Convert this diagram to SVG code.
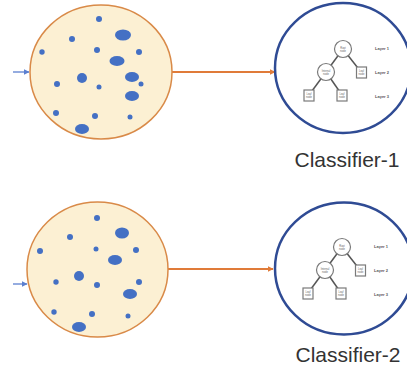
<svg xmlns="http://www.w3.org/2000/svg" width="407" height="365" viewBox="0 0 407 365">
  <defs>
    <marker id="orangeHead" viewBox="0 0 10 10" refX="9" refY="5" markerWidth="6" markerHeight="6" markerUnits="userSpaceOnUse" orient="auto">
      <path d="M0,0 L10,5 L0,10 z" fill="#E07B39"/>
    </marker>
    <marker id="blueHead" viewBox="0 0 10 10" refX="9" refY="5" markerWidth="6" markerHeight="6" markerUnits="userSpaceOnUse" orient="auto">
      <path d="M0,0 L10,5 L0,10 z" fill="#5B7FD0"/>
    </marker>
    <!-- small decision tree drawn inside each classifier circle -->
    <g id="tree">
      <line class="edge" x1="0" y1="0" x2="-17" y2="23"/>
      <line class="edge" x1="0" y1="0" x2="18" y2="23"/>
      <line class="edge" x1="-17" y1="23" x2="-34" y2="46"/>
      <line class="edge" x1="-17" y1="23" x2="-1" y2="46"/>
      <circle class="tnode" cx="0" cy="0" r="8.5"/>
      <circle class="tnode" cx="-17" cy="23" r="8.5"/>
      <rect class="tnode" x="13.5" y="18" width="10" height="11"/>
      <rect class="tnode" x="-39" y="41" width="10" height="11"/>
      <rect class="tnode" x="-6" y="41" width="10" height="11"/>
      <text class="tiny" x="0" y="-0.5">Root</text>
      <text class="tiny" x="0" y="2.5">node</text>
      <text class="tiny" x="-17" y="22.5">Internal</text>
      <text class="tiny" x="-17" y="25.5">node</text>
      <text class="tiny" x="18.5" y="22.5">Leaf</text>
      <text class="tiny" x="18.5" y="25.5">node</text>
      <text class="tiny" x="-34" y="45.5">Leaf</text>
      <text class="tiny" x="-34" y="48.5">node</text>
      <text class="tiny" x="-1" y="45.5">Leaf</text>
      <text class="tiny" x="-1" y="48.5">node</text>
      <text class="layer" x="32" y="1">Layer 1</text>
      <text class="layer" x="32" y="25">Layer 2</text>
      <text class="layer" x="32" y="49">Layer 3</text>
    </g>
  </defs>
  <style>
    .pool { fill: #FCF0D3; stroke: #D98A48; stroke-width: 1.5; }
    .dot { fill: #4470C4; }
    .clf { fill: #FFFFFF; stroke: #2F4B94; stroke-width: 2.5; }
    .edge { stroke: #555555; stroke-width: 1.5; }
    .tnode { fill: #FFFFFF; stroke: #7A7A7A; stroke-width: 1.2; }
    .tiny { font-family: "Liberation Sans", Arial, sans-serif; font-size: 2.6px; fill: #666666; text-anchor: middle; }
    .layer { font-family: "Liberation Sans", Arial, sans-serif; font-size: 4px; font-weight: bold; fill: #555555; }
    .label { font-family: "Liberation Sans", Arial, sans-serif; font-size: 21px; fill: #333333; text-anchor: middle; }
    .wire { fill: none; stroke: #E07B39; stroke-width: 2; }
    .feed { fill: none; stroke: #5B7FD0; stroke-width: 1.3; }
  </style>

  <rect width="407" height="365" fill="#FFFFFF"/>

  <!-- connectors -->
  <g id="connectors">
    <line class="feed" x1="13" y1="72" x2="29" y2="72" marker-end="url(#blueHead)"/>
    <line class="wire" x1="172" y1="72" x2="275" y2="72" marker-end="url(#orangeHead)"/>
    <line class="feed" x1="13" y1="284" x2="27" y2="284" marker-end="url(#blueHead)"/>
    <line class="wire" x1="168" y1="269" x2="273" y2="269" marker-end="url(#orangeHead)"/>
  </g>

  <!-- upper data pool -->
  <g id="pool-1">
    <ellipse class="pool" cx="101" cy="72" rx="71" ry="67"/>
    <circle class="dot" cx="99" cy="19" r="3"/>
    <ellipse class="dot" cx="123" cy="35" rx="8" ry="5.5"/>
    <circle class="dot" cx="72" cy="39" r="3"/>
    <circle class="dot" cx="42" cy="52" r="2.7"/>
    <circle class="dot" cx="97" cy="50" r="3"/>
    <circle class="dot" cx="139" cy="52" r="3"/>
    <ellipse class="dot" cx="117" cy="61" rx="7.5" ry="5"/>
    <ellipse class="dot" cx="82" cy="78" rx="5" ry="5"/>
    <ellipse class="dot" cx="132" cy="77" rx="7" ry="5"/>
    <circle class="dot" cx="141" cy="84" r="2.5"/>
    <circle class="dot" cx="57" cy="84" r="3"/>
    <circle class="dot" cx="99" cy="87" r="2.5"/>
    <ellipse class="dot" cx="132" cy="96" rx="7" ry="5"/>
    <circle class="dot" cx="56" cy="113" r="3"/>
    <circle class="dot" cx="95" cy="116" r="3"/>
    <circle class="dot" cx="130" cy="117" r="2.5"/>
    <ellipse class="dot" cx="82" cy="129" rx="7" ry="5"/>
  </g>

  <!-- upper classifier -->
  <g id="classifier-1">
    <ellipse class="clf" cx="343" cy="68" rx="68" ry="65"/>
    <use href="#tree" x="343" y="49"/>
    <text class="label" x="347" y="167">Classifier-1</text>
  </g>

  <!-- lower data pool -->
  <g id="pool-2">
    <ellipse class="pool" cx="97.5" cy="269.5" rx="70.5" ry="67.5"/>
    <circle class="dot" cx="97" cy="218" r="3"/>
    <ellipse class="dot" cx="122" cy="233" rx="7" ry="5.5"/>
    <circle class="dot" cx="70" cy="237" r="3"/>
    <circle class="dot" cx="40" cy="251" r="3"/>
    <circle class="dot" cx="96" cy="249" r="2.5"/>
    <circle class="dot" cx="136" cy="250" r="3"/>
    <ellipse class="dot" cx="115" cy="260" rx="7" ry="5"/>
    <ellipse class="dot" cx="79" cy="276" rx="5" ry="5"/>
    <circle class="dot" cx="56" cy="282" r="2.7"/>
    <circle class="dot" cx="97" cy="285" r="3"/>
    <circle class="dot" cx="139" cy="282" r="3"/>
    <ellipse class="dot" cx="130" cy="294" rx="7" ry="5"/>
    <circle class="dot" cx="54" cy="312" r="2.7"/>
    <circle class="dot" cx="92" cy="314" r="3"/>
    <circle class="dot" cx="128" cy="316" r="2.5"/>
    <ellipse class="dot" cx="79" cy="327" rx="7" ry="5"/>
  </g>

  <!-- lower classifier -->
  <g id="classifier-2">
    <ellipse class="clf" cx="344" cy="268.5" rx="69" ry="66"/>
    <use href="#tree" x="342" y="247"/>
    <text class="label" x="348" y="362">Classifier-2</text>
  </g>
</svg>
